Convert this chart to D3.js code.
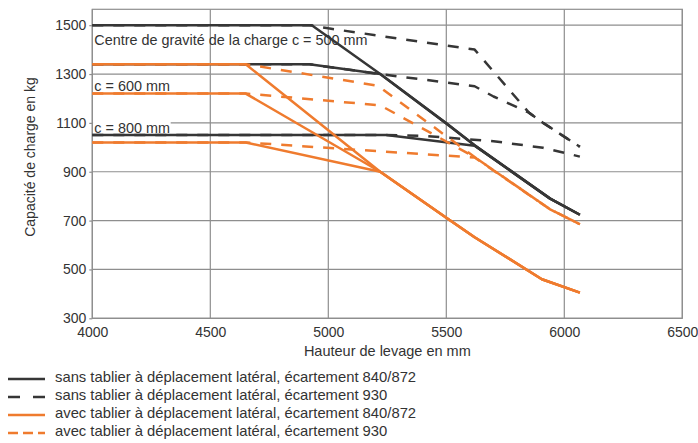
<!DOCTYPE html>
<html>
<head>
<meta charset="utf-8">
<script src="https://cdn.jsdelivr.net/npm/d3@7"></script>
<style>
  html, body { margin: 0; padding: 0; background: #fff; }
  svg { display: block; font-family: "Liberation Sans", Arial, sans-serif; }
</style>
</head>
<body>
<svg id="chart" width="698" height="443"></svg>
<script>
// ---------- DATA ----------
const xTicks = [4000, 4500, 5000, 5500, 6000, 6500];
const yTicks = [300, 500, 700, 900, 1100, 1300, 1500];

const legendLabels = [
  "sans tablier à déplacement latéral, écartement 840/872",
  "sans tablier à déplacement latéral, écartement 930",
  "avec tablier à déplacement latéral, écartement 840/872",
  "avec tablier à déplacement latéral, écartement 930"
];

const annotations = ["Centre de gravité de la charge c = 500 mm", "c = 600 mm", "c = 800 mm"];
const annotationLoad = [1440, 1251, 1081];

// [hauteur de levage (mm), capacité (kg)]
const sans840_c500 = [[4000,1500],[4930,1500],[5220,1300],[5500,1098],[5620,1008],[5940,790],[6066,724]];
const sans840_c600 = [[4000,1340],[4920,1340],[5220,1300],[5500,1098],[5620,1008],[5940,790],[6066,724]];
const sans840_c800 = [[4000,1050],[5245,1050],[5620,1006],[5940,790],[6066,724]];

const sans930_c500 = [[4000,1500],[4920,1500],[5000,1487],[5620,1400],[5850,1142],[5910,1100],[6066,1002]];
const sans930_c600 = [[4000,1340],[4920,1340],[5220,1300],[5620,1250],[5700,1208],[5850,1142],[5910,1100],[6066,1002]];
const sans930_c800 = [[4000,1050],[5245,1050],[5400,1047],[5700,1025],[5910,998],[6066,962]];

const avec840_c500 = [[4000,1340],[4650,1340],[5220,900],[5500,712],[5620,632],[5905,460],[6066,405]];
const avec840_c600 = [[4000,1220],[4650,1220],[5220,900],[5500,712],[5620,632],[5905,460],[6066,405]];
const avec840_c800 = [[4000,1020],[4650,1020],[5220,900],[5500,712],[5620,632],[5905,460],[6066,405]];

const avec930_c500 = [[4000,1340],[4650,1340],[5210,1252],[5620,960],[5940,746],[6066,685]];
const avec930_c600 = [[4000,1220],[4650,1220],[5220,1172],[5620,960],[5940,746],[6066,685]];
const avec930_c800 = [[4000,1020],[4650,1020],[5620,958],[5940,746],[6066,685]];

// ---------- LAYOUT / STYLE ----------
const BLACK = "#363636", ORANGE = "#ef7b2e", GRID = "#8e8e8e", TEXT = "#333";
const series = [
  { label: legendLabels[0], color: BLACK,  dash: null,    legendDash: null,    lines: [sans840_c500, sans840_c600, sans840_c800] },
  { label: legendLabels[1], color: BLACK,  dash: "11,10", legendDash: "12,13", lines: [sans930_c500, sans930_c600, sans930_c800] },
  { label: legendLabels[2], color: ORANGE, dash: null,    legendDash: null,    lines: [avec840_c500, avec840_c600, avec840_c800] },
  { label: legendLabels[3], color: ORANGE, dash: "11,10", legendDash: "10,5",  lines: [avec930_c500, avec930_c600, avec930_c800] }
];

const svg = d3.select("#chart");
const pL = 92.3, pR = 682.3, pT = 9.3, pB = 318.3;
const x = d3.scaleLinear().domain([4000, 6500]).range([pL, pR]);
const y = d3.scaleLinear().domain([300, 1565]).range([pB, pT]);

// grid
const grid = svg.append("g").attr("stroke", GRID).attr("stroke-width", 1.2).attr("fill", "none");
grid.selectAll("line.v").data(xTicks).join("line").attr("class", "v")
  .attr("x1", d => x(d)).attr("x2", d => x(d)).attr("y1", pT).attr("y2", pB);
grid.selectAll("line.h").data(yTicks).join("line").attr("class", "h")
  .attr("y1", d => y(d)).attr("y2", d => y(d)).attr("x1", pL).attr("x2", pR);
grid.append("rect").attr("x", pL).attr("y", pT).attr("width", pR - pL).attr("height", pB - pT);

// axes
const fmt = d3.format("d");
const yAxis = svg.append("g").attr("transform", `translate(${pL},0)`)
  .call(d3.axisLeft(y).tickValues(yTicks).tickFormat(fmt).tickSize(3).tickPadding(3));
yAxis.select(".domain").remove();
yAxis.selectAll("line").attr("stroke", GRID).attr("stroke-width", 1.2);
yAxis.selectAll("text").attr("font-size", 14).attr("fill", TEXT).attr("font-family", "Liberation Sans, Arial, sans-serif");

const xAxis = svg.append("g").attr("transform", `translate(0,${pB})`)
  .call(d3.axisBottom(x).tickValues(xTicks).tickFormat(fmt).tickSize(0).tickPadding(8.5));
xAxis.select(".domain").remove();
xAxis.selectAll("text").attr("font-size", 14).attr("fill", TEXT).attr("font-family", "Liberation Sans, Arial, sans-serif");

// axis titles
svg.append("text").attr("x", (pL + pR) / 2).attr("y", 356)
  .attr("text-anchor", "middle").attr("font-size", 14.5).attr("fill", TEXT)
  .text("Hauteur de levage en mm");
svg.append("text").attr("transform", "translate(35,157) rotate(-90)")
  .attr("text-anchor", "middle").attr("font-size", 14).attr("fill", TEXT)
  .text("Capacité de charge en kg");

// annotations
const ann = svg.append("g");
annotations.forEach((t, i) => {
  const g = ann.append("g");
  const txt = g.append("text").attr("x", pL + 2).attr("y", y(annotationLoad[i]))
    .attr("dominant-baseline", "central").attr("font-size", 14.4).attr("fill", TEXT).text(t);
  if (i === 2) {
    const bb = txt.node().getBBox();
    g.insert("rect", "text").attr("x", pL + 0.8).attr("y", bb.y).attr("width", bb.width + 2).attr("height", bb.height - 3)
      .attr("fill", "#fff");
  }
});

// data lines
const lineGen = d3.line().x(d => x(d[0])).y(d => y(d[1]));
series.forEach(s => {
  svg.append("g").selectAll("path").data(s.lines).join("path")
    .attr("d", lineGen).attr("fill", "none").attr("stroke", s.color)
    .attr("stroke-width", 2.5).attr("stroke-linejoin", "round")
    .attr("stroke-dasharray", s.dash);
});

// legend
const rowY = [377, 395, 413, 431];
const lg = svg.append("g");
series.forEach((s, i) => {
  lg.append("line").attr("x1", 8).attr("x2", 45).attr("y1", rowY[i] + 2).attr("y2", rowY[i] + 2)
    .attr("stroke", s.color).attr("stroke-width", 2.5).attr("stroke-dasharray", s.legendDash);
  lg.append("text").attr("x", 55).attr("y", rowY[i]).attr("dominant-baseline", "central")
    .attr("font-size", 14.8).attr("fill", TEXT).text(s.label);
});
</script>
</body>
</html>
